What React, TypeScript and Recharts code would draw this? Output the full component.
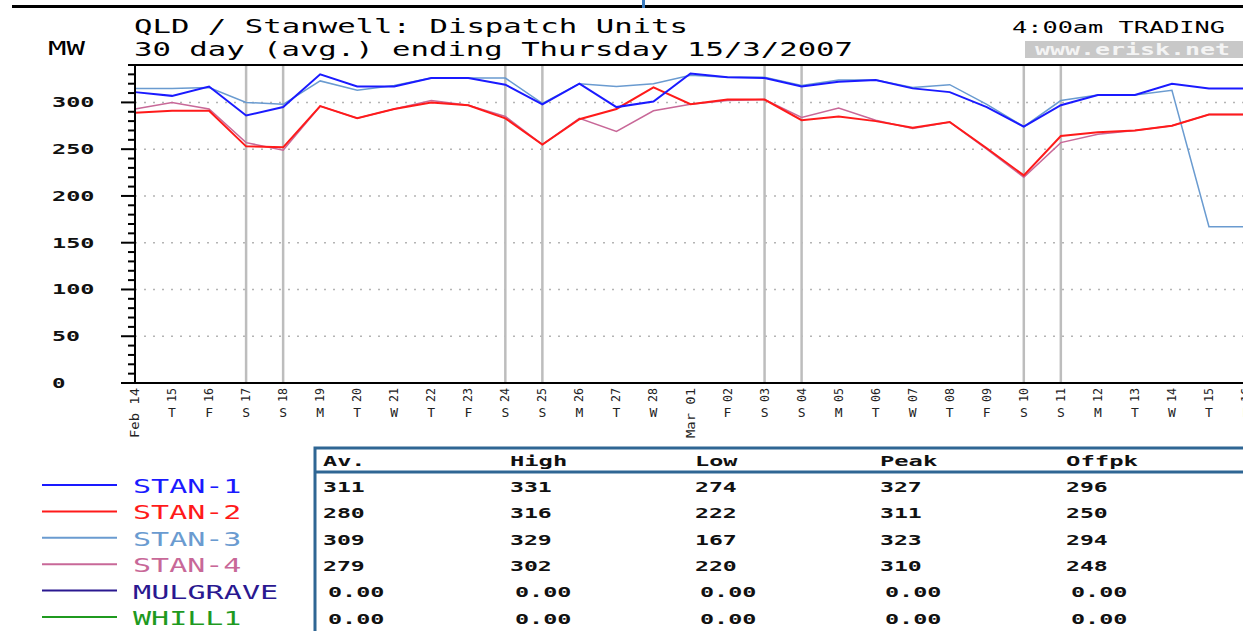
import { LineChart, Line, XAxis, YAxis, ReferenceLine } from 'recharts'

// day labels, Feb 14 .. Mar 16 2007
const dayNums = ['14', '15', '16', '17', '18', '19', '20', '21', '22', '23', '24', '25', '26', '27', '28',
  '01', '02', '03', '04', '05', '06', '07', '08', '09', '10', '11', '12', '13', '14', '15', '16']
const weekdays = ['W', 'T', 'F', 'S', 'S', 'M', 'T', 'W', 'T', 'F', 'S', 'S', 'M', 'T', 'W',
  'T', 'F', 'S', 'S', 'M', 'T', 'W', 'T', 'F', 'S', 'S', 'M', 'T', 'W', 'T', 'F']
const monthMarks: Record<number, string> = { 0: 'Feb', 15: 'Mar' }
const weekendIdx = [3, 4, 10, 11, 17, 18, 24, 25]

const stan1 = [311, 307, 317, 286, 295, 330, 317, 317, 326, 326, 319, 298, 320, 295, 301,
  331, 327, 326, 317, 322, 324, 315, 311, 295, 274, 297, 308, 308, 320, 315, 315]
const stan2 = [289, 291, 291, 253, 252, 296, 283, 293, 300, 297, 283, 255, 282, 293, 316,
  298, 303, 303, 281, 285, 280, 273, 279, 251, 222, 264, 268, 270, 275, 287, 287]
const stan3 = [315, 315, 316, 300, 298, 323, 313, 318, 326, 326, 326, 299, 320, 317, 320,
  329, 327, 327, 318, 324, 324, 316, 319, 298, 274, 302, 308, 308, 313, 167, 167]
const stan4 = [293, 300, 293, 257, 249, 296, 283, 293, 302, 297, 285, 255, 283, 269, 291,
  298, 302, 303, 284, 294, 281, 272, 279, 250, 220, 257, 266, 270, 275, 287, 287]
const mulgrave = [0, 0, 0, 0, 0, 0, 0, 0, 0, 0, 0, 0, 0, 0, 0, 0, 0, 0, 0, 0, 0, 0, 0, 0, 0, 0, 0, 0, 0, 0, 0]
const whill1 = [0, 0, 0, 0, 0, 0, 0, 0, 0, 0, 0, 0, 0, 0, 0, 0, 0, 0, 0, 0, 0, 0, 0, 0, 0, 0, 0, 0, 0, 0, 0]

const yTicks = [0, 10, 20, 30, 40, 50, 60, 70, 80, 90, 100, 110, 120, 130, 140, 150, 160, 170,
  180, 190, 200, 210, 220, 230, 240, 250, 260, 270, 280, 290, 300, 310, 320, 330, 340]
const yLabels = [0, 50, 100, 150, 200, 250, 300]

const seriesNames = ['STAN-1', 'STAN-2', 'STAN-3', 'STAN-4', 'MULGRAVE', 'WHILL1']
const seriesColors = ['#1a1aff', '#ff1a1a', '#6a9bd0', '#c86898', '#2a1890', '#1f9a1f']
const tableHead = ['Av.', 'High', 'Low', 'Peak', 'Offpk']
const avVals = ['311', '280', '309', '279', '0.00', '0.00']
const highVals = ['331', '316', '329', '302', '0.00', '0.00']
const lowVals = ['274', '222', '167', '220', '0.00', '0.00']
const peakVals = ['327', '311', '323', '310', '0.00', '0.00']
const offpkVals = ['296', '250', '294', '248', '0.00', '0.00']

const data = dayNums.map((d, i) => ({
  i,
  day: d,
  stan1: stan1[i],
  stan2: stan2[i],
  stan3: stan3[i],
  stan4: stan4[i],
  mulgrave: mulgrave[i],
  whill1: whill1[i],
}))

const FONT = '"DejaVu Sans Mono", monospace'

const Txt = (p: { x: number; y: number; text: string; w: number; size: number; fill?: string; bold?: boolean }) => (
  <text x={p.x} y={p.y} fontFamily={FONT} fontSize={p.size} fontWeight={p.bold ? 'bold' : 'normal'}
    fill={p.fill || '#000'} textLength={p.w} lengthAdjust="spacingAndGlyphs">{p.text}</text>
)

const XTick = (props: any) => {
  const { x, y, payload } = props
  const i = payload.value as number
  const month = monthMarks[i]
  const rot = month ? `${month} ${dayNums[i]}` : dayNums[i]
  return (
    <g>
      <text transform={`translate(${x + 4},${y + 5}) rotate(-90)`} textAnchor="end" fontFamily={FONT}
        fontSize={12} fill="#222" textLength={month ? 50 : 14} lengthAdjust="spacingAndGlyphs">{rot}</text>
      {!month && (
        <text x={x} y={y + 34} textAnchor="middle" fontFamily={FONT} fontSize={13} fill="#222">{weekdays[i]}</text>
      )}
    </g>
  )
}

const YTick = (props: any) => {
  const { x, y, payload } = props
  const v = payload.value as number
  const major = yLabels.includes(v)
  return (
    <g>
      <line x1={x - (major ? 14 : 7)} x2={x} y1={y} y2={y} stroke="#000" strokeWidth={2} />
      {major && (
        <text x={52} y={y + 5} fontFamily={FONT} fontSize={14} fontWeight="bold" fill="#111"
          textLength={String(v).length * 14.5 - 1} lengthAdjust="spacingAndGlyphs">{v}</text>
      )}
    </g>
  )
}

const Overlay = () => {
  const rowY = [492, 518, 545, 571, 597, 624]
  const colX = [323, 510, 695, 880, 1066]
  const cols = [avVals, highVals, lowVals, peakVals, offpkVals]
  return (
    <svg width={1243} height={631} style={{ position: 'absolute', left: 0, top: 0, pointerEvents: 'none' }}>
      <rect x={12} y={5} width={1240} height={3} fill="#000" />
      <rect x={642} y={0} width={3} height={8} fill="#3a7bbf" />
      <Txt x={134} y={33} text="QLD / Stanwell: Dispatch Units" w={554} size={20} />
      <Txt x={134} y={56} text="30 day (avg.) ending Thursday 15/3/2007" w={719} size={20} />
      <Txt x={48} y={55} text="MW" w={37} size={19} />
      <Txt x={1012} y={33} text="4:00am TRADING" w={213} size={16} />
      <rect x={1025} y={41} width={230} height={17} fill="#c8c8c8" />
      <Txt x={1035} y={55} text="www.erisk.net" w={195} size={15} fill="#f4f4f4" bold />

      {seriesNames.map((n, k) => (
        <g key={n}>
          <line x1={42} x2={117} y1={485 + k * 26.4} y2={485 + k * 26.4} stroke={seriesColors[k]} strokeWidth={2} />
          <Txt x={133} y={493 + k * 26.4} text={n} w={n.length * 18.4 - 2} size={20} fill={seriesColors[k]} />
        </g>
      ))}

      <rect x={315} y={448} width={1000} height={300} fill="none" stroke="#2f6694" strokeWidth={3} />
      <line x1={315} x2={1243} y1={472} y2={472} stroke="#2f6694" strokeWidth={3} />
      {tableHead.map((h, c) => (
        <Txt key={h} x={colX[c]} y={466} text={h} w={h.length * 14.8 - 2} size={14} bold fill="#111" />
      ))}
      {cols.map((vals, c) =>
        vals.map((v, r) => (
          <Txt key={`${c}-${r}`} x={colX[c] + (v.includes('.') ? 5 : 0)} y={rowY[r]} text={v}
            w={v.length * 14.6 - 2} size={14} bold fill="#111" />
        ))
      )}
    </svg>
  )
}

export default function App() {
  return (
    <div style={{ position: 'absolute', left: 0, top: 0, width: 1243, height: 631, overflow: 'hidden', background: '#fff' }}>
      <LineChart width={1260} height={631} data={data} margin={{ top: 65, right: 14, bottom: 188, left: 40 }}>
        <XAxis dataKey="i" type="number" domain={[0, 30]} ticks={data.map((r) => r.i)} interval={0}
          tickSize={0} tickMargin={0} tickLine={false} axisLine={{ stroke: '#000', strokeWidth: 2 }}
          height={60} tick={<XTick />} />
        <YAxis type="number" domain={[0, 340]} ticks={yTicks} interval={0} width={95}
          tickSize={0} tickMargin={0} tickLine={false} axisLine={{ stroke: '#000', strokeWidth: 2 }}
          tick={<YTick />} />
        {yLabels.filter((v) => v > 0).map((v) => (
          <ReferenceLine key={`g${v}`} y={v} stroke="#b4b4b4" strokeDasharray="2 7" strokeWidth={1.5} />
        ))}
        {weekendIdx.map((d) => (
          <ReferenceLine key={`w${d}`} x={d} stroke="#bdbdbd" strokeWidth={2.5} />
        ))}
        <ReferenceLine y={340} stroke="#000" strokeWidth={2} />
        <Line dataKey="whill1" stroke={seriesColors[5]} strokeWidth={2} dot={false} isAnimationActive={false} />
        <Line dataKey="mulgrave" stroke={seriesColors[4]} strokeWidth={2} dot={false} isAnimationActive={false} />
        <Line dataKey="stan4" stroke={seriesColors[3]} strokeWidth={1.5} dot={false} isAnimationActive={false} />
        <Line dataKey="stan3" stroke={seriesColors[2]} strokeWidth={1.5} dot={false} isAnimationActive={false} />
        <Line dataKey="stan2" stroke={seriesColors[1]} strokeWidth={2} dot={false} isAnimationActive={false} />
        <Line dataKey="stan1" stroke={seriesColors[0]} strokeWidth={2} dot={false} isAnimationActive={false} />
      </LineChart>
      <Overlay />
    </div>
  )
}
